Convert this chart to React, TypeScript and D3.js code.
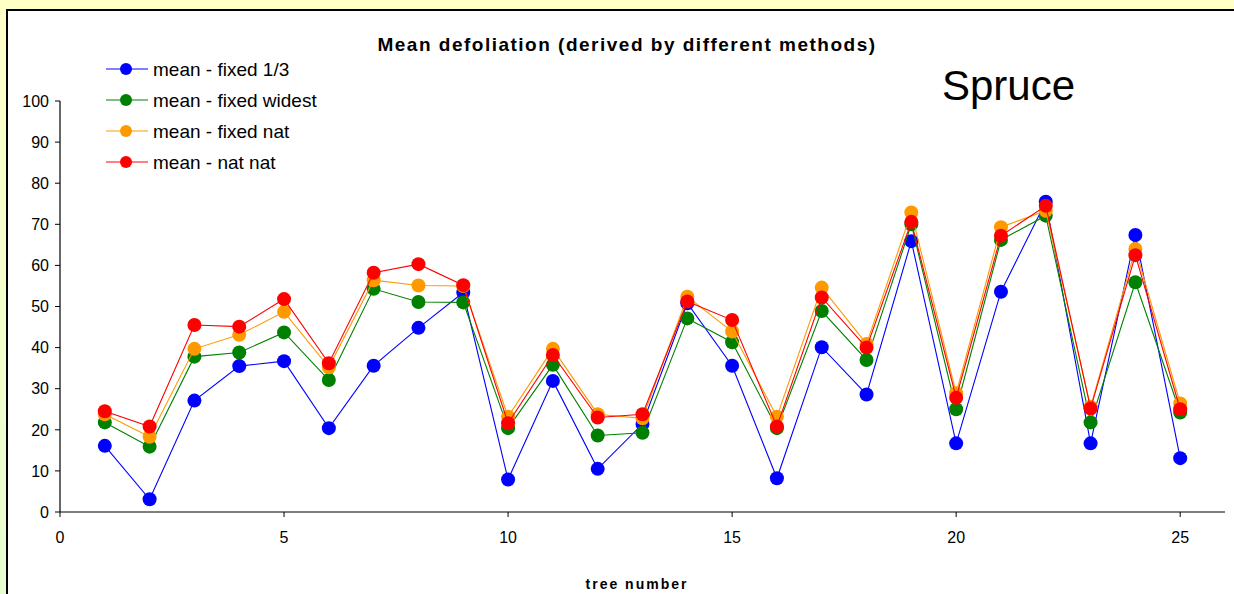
import React from "react";
import * as d3 from "d3";

const trees = [1, 2, 3, 4, 5, 6, 7, 8, 9, 10, 11, 12, 13, 14, 15, 16, 17, 18, 19, 20, 21, 22, 23, 24, 25];
const fixedThird = [16.1, 3.1, 27.1, 35.5, 36.7, 20.4, 35.6, 44.8, 53.4, 7.9, 31.9, 10.5, 21.4, 50.8, 35.6, 8.2, 40.1, 28.6, 65.9, 16.7, 53.6, 75.5, 16.7, 67.4, 13.1];
const fixedWidest = [21.8, 15.9, 37.8, 38.8, 43.7, 32.1, 54.3, 51.1, 51.0, 20.4, 35.8, 18.6, 19.3, 47.1, 41.3, 20.4, 48.9, 37.0, 70.0, 25.0, 66.2, 72.1, 21.8, 55.9, 24.2];
const fixedNat = [23.8, 18.3, 39.7, 43.1, 48.7, 35.2, 56.4, 55.1, 55.0, 23.2, 39.7, 23.8, 22.8, 52.4, 43.9, 23.2, 54.6, 40.9, 72.9, 28.9, 69.3, 73.3, 25.6, 64.0, 26.4];
const natNat = [24.5, 20.8, 45.5, 45.1, 51.8, 36.2, 58.2, 60.3, 55.2, 21.6, 38.2, 23.0, 23.8, 51.2, 46.7, 20.8, 52.2, 40.0, 70.6, 27.8, 67.2, 74.5, 25.2, 62.5, 25.0];

const seriesNames = ["mean - fixed 1/3", "mean - fixed widest", "mean - fixed nat", "mean - nat nat"];
const seriesColors = ["#0000ff", "#008000", "#ff9900", "#ff0000"];
const seriesValues = [fixedThird, fixedWidest, fixedNat, natNat];

const yTicks = [0, 10, 20, 30, 40, 50, 60, 70, 80, 90, 100];
const xTicks = [0, 5, 10, 15, 20, 25];

const title = "Mean defoliation (derived by different methods)";
const xTitle = "tree number";
const speciesLabel = "Spruce";

export default function App() {
  const W = 1234;
  const H = 594;
  const x = d3.scaleLinear().domain([0, 26]).range([60, 1225]);
  const y = d3.scaleLinear().domain([0, 100]).range([512, 101]);
  const line = d3
    .line<number>()
    .x((_, i) => x(trees[i]))
    .y((d) => y(d));
  const font = "'Liberation Sans', Arial, sans-serif";

  return (
    <div style={{ position: "absolute", left: 0, top: 0 }}>
      <svg width={W} height={H} style={{ display: "block" }} fontFamily={font}>
        <defs>
          <linearGradient id="bg" x1="0" y1="0" x2="0" y2="1">
            <stop offset="0" stopColor="#ffffc6" />
            <stop offset="1" stopColor="#e8ffd0" />
          </linearGradient>
        </defs>
        <rect x={0} y={0} width={W} height={H} fill="url(#bg)" />
        <rect x={7} y={10} width={W + 20} height={H + 20} fill="#fff" stroke="#000" strokeWidth={2} />

        <text x={627} y={51} textAnchor="middle" fontSize={19} fontWeight="bold" letterSpacing={1.5}>
          {title}
        </text>
        <text x={942} y={100} fontSize={42}>
          {speciesLabel}
        </text>

        {/* y axis */}
        <line x1={60} x2={60} y1={y(100)} y2={y(0)} stroke="#000" strokeWidth={1.2} />
        {yTicks.map((t) => (
          <g key={"y" + t}>
            <line x1={55} x2={60} y1={y(t)} y2={y(t)} stroke="#000" />
            <text x={49} y={y(t)} dy="0.36em" textAnchor="end" fontSize={16}>
              {t}
            </text>
          </g>
        ))}

        {/* x axis */}
        <line x1={x(0)} x2={x(26)} y1={y(0)} y2={y(0)} stroke="#000" strokeWidth={1.2} />
        {xTicks.map((t) => (
          <g key={"x" + t}>
            <line x1={x(t)} x2={x(t)} y1={y(0)} y2={y(0) + 5} stroke="#000" />
            <text x={x(t)} y={542.5} textAnchor="middle" fontSize={16}>
              {t}
            </text>
          </g>
        ))}
        <text x={637} y={589} textAnchor="middle" fontSize={14} fontWeight="bold" letterSpacing={2}>
          {xTitle}
        </text>

        {/* series */}
        {seriesValues.map((vals, si) => (
          <g key={"s" + si}>
            <path d={line(vals) || ""} fill="none" stroke={seriesColors[si]} strokeWidth={1.1} />
            {vals.map((v, i) => (
              <circle key={i} cx={x(trees[i])} cy={y(v)} r={7} fill={seriesColors[si]} />
            ))}
          </g>
        ))}

        {/* legend */}
        {seriesNames.map((name, i) => {
          const ly = 69 + i * 31;
          return (
            <g key={"l" + i}>
              <line x1={106} x2={148} y1={ly} y2={ly} stroke={seriesColors[i]} strokeWidth={1.2} />
              <circle cx={126} cy={ly} r={6} fill={seriesColors[i]} />
              <text x={153} y={ly} dy="0.36em" fontSize={19}>
                {name}
              </text>
            </g>
          );
        })}
      </svg>
    </div>
  );
}
